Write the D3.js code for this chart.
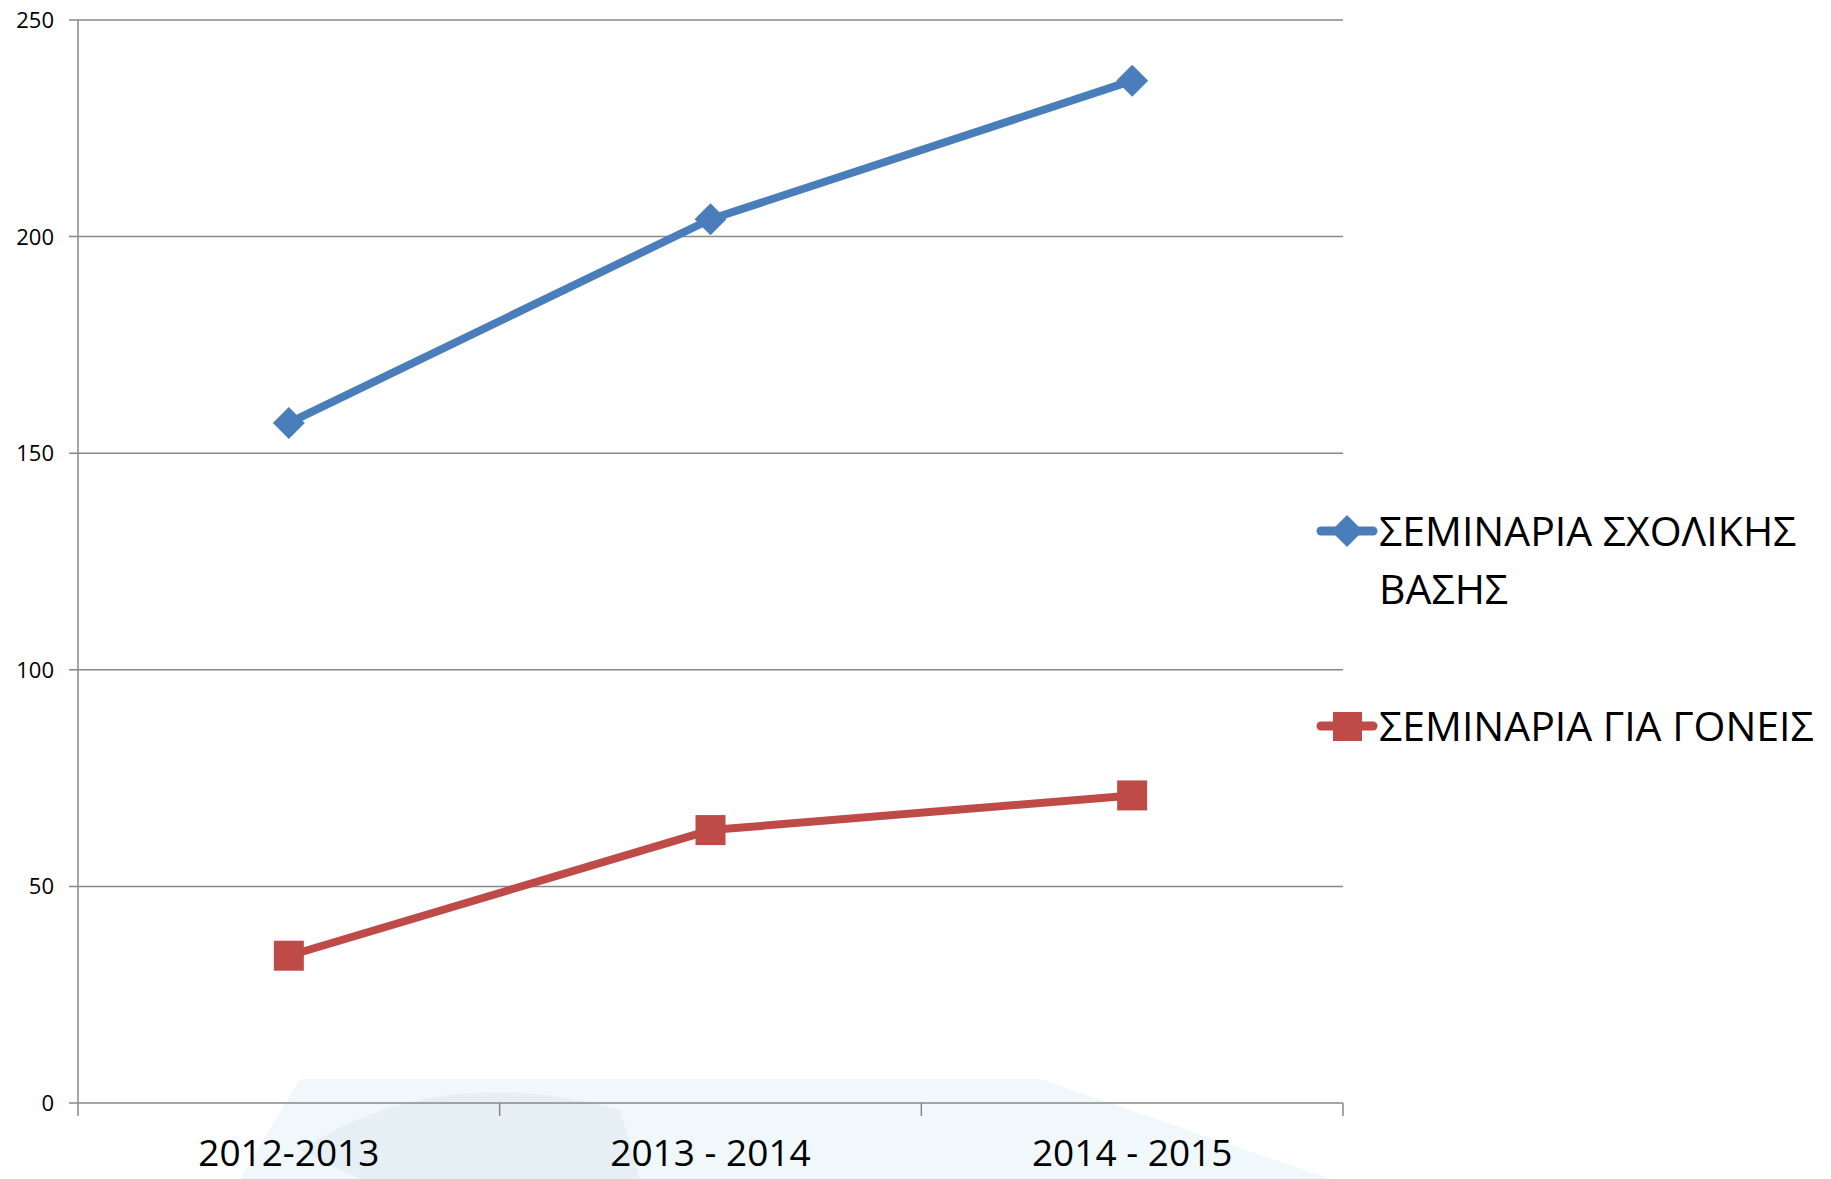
<!DOCTYPE html>
<html>
<head>
<meta charset="utf-8">
<script src="https://cdn.jsdelivr.net/npm/d3@7"></script>
<style>
  body { margin: 0; background: #fff; }
  text { font-family: "Open Sans", "Noto Sans", sans-serif; fill: #000; }
</style>
</head>
<body>
<div id="chart"></div>
<script>
// school years on x, seminar counts on y
var years = ["2012-2013", "2013 - 2014", "2014 - 2015"];
var schoolSeminars = [157, 204, 236];
var parentSeminars = [34, 63, 71];
var seriesNames = [["ΣΕΜΙΝΑΡΙΑ ΣΧΟΛΙΚΗΣ", "ΒΑΣΗΣ"], ["ΣΕΜΙΝΑΡΙΑ ΓΙΑ ΓΟΝΕΙΣ"]];
var yTicks = [0, 50, 100, 150, 200, 250];

var w_width = 1831, w_height = 1179;
var blue = "#4A7EBB", red = "#BE4B48", gridCol = "#888888";

var svg = d3.select("#chart").append("svg")
  .attr("width", w_width)
  .attr("height", w_height);

// faint watermark behind the axis
var wm = svg.append("g");
wm.append("path")
  .attr("d", "M300,1079 L1040,1079 L1330,1179 L240,1179 Z")
  .attr("fill", "#f1f8fb");
wm.append("path")
  .attr("d", "M300,1150 Q440,1060 620,1110 L640,1179 L360,1179 Z")
  .attr("fill", "#e6eff3");

var x = d3.scaleBand().domain(years).range([78, 1343]);
var y = d3.scaleLinear().domain([0, 250]).range([1103, 20]);

// gridlines
svg.append("g").selectAll("line")
  .data(yTicks)
  .enter().append("line")
  .attr("x1", 69).attr("x2", 1343)
  .attr("y1", function(d) { return y(d) }).attr("y2", function(d) { return y(d) })
  .attr("stroke", gridCol).attr("stroke-width", 1.5);

// y axis line
svg.append("line")
  .attr("x1", 78).attr("x2", 78).attr("y1", 20).attr("y2", 1116)
  .attr("stroke", gridCol).attr("stroke-width", 1.5);

// x tick marks at band edges
var edges = years.map(function(d) { return x(d) }).concat([x.range()[1]]);
svg.append("g").selectAll("line")
  .data(edges.slice(1))
  .enter().append("line")
  .attr("x1", function(d) { return d }).attr("x2", function(d) { return d })
  .attr("y1", 1103).attr("y2", 1116)
  .attr("stroke", gridCol).attr("stroke-width", 1.5);

// y labels
svg.append("g").selectAll("text")
  .data(yTicks)
  .enter().append("text")
  .attr("x", 54).attr("y", function(d) { return y(d) + 8 })
  .attr("text-anchor", "end")
  .style("font-size", "22px")
  .text(function(d) { return d });

// x labels
svg.append("g").selectAll("text")
  .data(years)
  .enter().append("text")
  .attr("x", function(d) { return x(d) + x.bandwidth() / 2 })
  .attr("y", 1166)
  .attr("text-anchor", "middle")
  .style("font-size", "37px")
  .text(function(d) { return d });

var line = d3.line()
  .x(function(d, i) { return x(years[i]) + x.bandwidth() / 2 })
  .y(function(d) { return y(d) });

svg.append("path").datum(schoolSeminars)
  .attr("d", line).attr("fill", "none")
  .attr("stroke", blue).attr("stroke-width", 8).attr("stroke-linejoin", "round");
svg.append("path").datum(parentSeminars)
  .attr("d", line).attr("fill", "none")
  .attr("stroke", red).attr("stroke-width", 8).attr("stroke-linejoin", "round");

var diamond = "M0,-16 L16,0 L0,16 L-16,0 Z";
svg.append("g").selectAll("path")
  .data(schoolSeminars)
  .enter().append("path")
  .attr("d", diamond).attr("fill", blue)
  .attr("transform", function(d, i) { return "translate(" + (x(years[i]) + x.bandwidth() / 2) + "," + y(d) + ")" });

svg.append("g").selectAll("rect")
  .data(parentSeminars)
  .enter().append("rect")
  .attr("width", 30).attr("height", 30).attr("fill", red)
  .attr("x", function(d, i) { return x(years[i]) + x.bandwidth() / 2 - 15 })
  .attr("y", function(d) { return y(d) - 15 });

// legend
var legY = [531, 726];
var legCol = [blue, red];
var leg = svg.append("g").selectAll("g")
  .data(seriesNames)
  .enter().append("g")
  .attr("transform", function(d, i) { return "translate(0," + legY[i] + ")" });
leg.append("line")
  .attr("x1", 1321).attr("x2", 1373)
  .attr("stroke", function(d, i) { return legCol[i] })
  .attr("stroke-width", 9).attr("stroke-linecap", "round");
leg.filter(function(d, i) { return i == 0 }).append("path")
  .attr("d", diamond).attr("fill", blue)
  .attr("transform", "translate(1347,0)");
leg.filter(function(d, i) { return i == 1 }).append("rect")
  .attr("x", 1333).attr("y", -14).attr("width", 29).attr("height", 29).attr("fill", red);
leg.each(function(d) {
  var g = d3.select(this);
  d.forEach(function(t, j) {
    g.append("text")
      .attr("x", 1379).attr("y", 15 + j * 58)
      .style("font-size", "41px")
      .text(t);
  });
});
</script>
</body>
</html>
